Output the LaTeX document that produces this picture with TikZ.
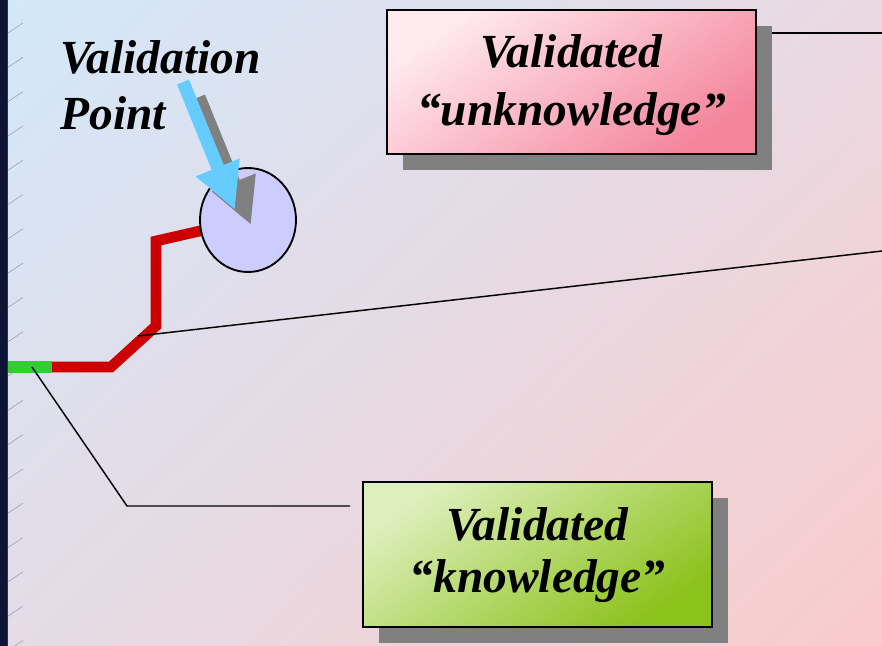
\documentclass[tikz,border=0pt]{standalone}
\usepackage{fontspec}
\setmainfont{Liberation Serif}
\usetikzlibrary{shadows,shadings,shapes.geometric,arrows.meta}

\definecolor{bgUL}{HTML}{D2E8FA}
\definecolor{bgUR}{HTML}{EAD9E2}
\definecolor{bgLL}{HTML}{E4DCE6}
\definecolor{bgLR}{HTML}{F9CBCB}
\definecolor{strip}{HTML}{0E1434}
\definecolor{tickgray}{HTML}{A4A4B8}
\definecolor{pathred}{HTML}{CC0000}
\definecolor{pathgreen}{HTML}{33CC33}
\definecolor{circfill}{HTML}{CCCCFF}
\definecolor{ptrblue}{HTML}{66CCFF}
\definecolor{shadowgray}{HTML}{808080}
\definecolor{pinkA}{HTML}{FFEAF0}
\definecolor{pinkB}{HTML}{F4869C}
\definecolor{greenA}{HTML}{DDEFBC}
\definecolor{greenB}{HTML}{8CC21C}

\pgfdeclarelayer{back}
\pgfdeclarelayer{mid}
\pgfsetlayers{back,mid,main}

\tikzset{
  bigtext/.style={font=\fontsize{35.6pt}{42pt}\selectfont\bfseries\itshape, inner sep=0pt},
  labelbox/.style={draw=black, line width=1.1pt, inner sep=0pt,
    general shadow={fill=shadowgray, shadow xshift=12pt, shadow yshift=-12pt}},
  boxtext/.style={align=center, inner sep=0pt,
    font=\fontsize{35.6pt}{#1}\selectfont\bfseries\itshape},
  conn/.style={draw=black, line width=1.1pt},
  tickmark/.style={draw=tickgray, line width=0.5pt},
  trail/.style={line width=8pt, line join=miter},
  pointer/.style={line width=9.75pt, -{Triangle[width=33pt,length=34.5pt]}},
}

\begin{document}
\begin{tikzpicture}[x=0.75pt,y=-0.75pt]
\useasboundingbox (0,0) rectangle (882,646);

% backdrop
\begin{pgfonlayer}{back}
  \shade[upper left=bgUL, upper right=bgUR, lower left=bgLL, lower right=bgLR]
    (0,0) rectangle (882,646);
  \fill[strip] (0,0) rectangle (7,646);
  \draw[black!80, line width=0.6pt] (7.5,0) -- (7.5,646);
  \foreach \k in {0,...,18}
    \draw[tickmark] (8,{33+34.3*\k}) -- (23,{23+34.3*\k});
\end{pgfonlayer}

% validation point
\node[ellipse, draw=black, line width=1.4pt, fill=circfill,
      minimum width=72pt, minimum height=78pt, inner sep=0pt] (vp) at (248,220) {};

% path leading to the validation point
\coordinate (g0) at (8,367);
\coordinate (g1) at (52,367);
\coordinate (c1) at (111,367);
\coordinate (c2) at (156,326);
\coordinate (c3) at (156,241);
\coordinate (rp) at (138,336);
\begin{pgfonlayer}{mid}
  \draw[trail, draw=pathred] (g1) -- (c1) -- (c2) -- (c3) -- (vp.center);
\end{pgfonlayer}
\draw[conn] (rp) -- (882,251);
\coordinate (gs) at (32,367);
\coordinate (gk) at (127,506);
\coordinate (ge) at (350,506);
\draw[line width=8.6pt, draw=pathgreen] (g0) -- (g1);
\draw[conn] (gs) -- (gk) -- (ge);

% pointer with its shadow
\coordinate (pt0) at (183,82);
\coordinate (pt1) at (235,210);
\draw[pointer, draw=shadowgray, fill=shadowgray]
  ([xshift=12pt,yshift=-11.25pt]pt0) -- ([xshift=12pt,yshift=-11.25pt]pt1);
\draw[pointer, draw=ptrblue, fill=ptrblue] (pt0) -- (pt1);

\node[bigtext, align=left, anchor=north west] (vplabel) at (60,40) {Validation\\Point};

% label boxes
\coordinate (r1) at (882,33);
\begin{pgfonlayer}{mid}
  \draw[conn] (r1) -- (r1 -| 760,0);
\end{pgfonlayer}
\node[labelbox, top color=pinkA, bottom color=pinkB, shading angle=35,
      minimum width=276.75pt, minimum height=108pt] (ub) at (571.5,82) {};
\node[boxtext=43.5pt] (ubtext) at ([yshift=-2.5pt]ub.center)
      {Validated\\“unknowledge”};
\node[labelbox, top color=greenA, bottom color=greenB, shading angle=35,
      minimum width=261.75pt, minimum height=108.75pt] (kb) at (537.5,554.5) {};
\node[boxtext=39pt] (kbtext) at ([yshift=-0.75pt]kb.center)
      {Validated\\“knowledge”};
\end{tikzpicture}
\end{document}
